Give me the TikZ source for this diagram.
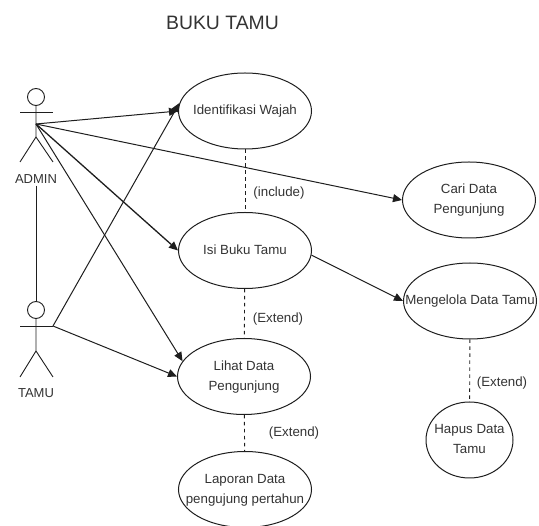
\documentclass[tikz,border=0pt]{standalone}
\usepackage{fontspec}
\setmainfont{Liberation Sans}
\usetikzlibrary{arrows.meta,shapes.geometric}
\definecolor{ink}{HTML}{1E1E1E}
\definecolor{txt}{HTML}{333333}
\newcommand\ucl[1]{\raisebox{-4pt}[0pt][0pt]{\makebox[40pt]{#1}}}
\tikzset{
  uc/.style={draw=ink,line width=1pt,ellipse,minimum width=#1,inner sep=0pt,minimum height=76pt,align=center,text=txt,font=\fontsize{13.3}{20}\selectfont},
  uc/.default=133pt,
  lab/.style={text=txt,inner sep=0pt,font=\fontsize{13.3}{15}\selectfont},
  actorlab/.style={text=txt,inner sep=0pt,font=\fontsize{13}{15}\selectfont},
  conn/.style={draw=ink,line width=1pt,-{Triangle[length=9pt,width=8pt]}},
  plainl/.style={draw=ink,line width=1pt},
  dashl/.style={draw=ink,line width=0.9pt,dash pattern=on 3.5pt off 3.5pt},
  limb/.style={draw=ink,line width=0.9pt},
}
\begin{document}
\begin{tikzpicture}[x=1pt,y=-1pt]
\useasboundingbox (0,0) rectangle (539,526);
\node[lab,font=\fontsize{19.4}{21}\selectfont] (title) at (222.5,22.5) {BUKU TAMU};
\node[uc] (iden) at (245,111) {\ucl{Identifikasi Wajah}};
\node[uc] (isi) at (245,250.5) {\ucl{Isi Buku Tamu}};
\node[uc] (lihat) at (244,376.5) {\ucl{Lihat Data}\\\ucl{Pengunjung}};
\node[uc] (lap) at (245,489.5) {\ucl{Laporan Data}\\\ucl{pengujung pertahun}};
\node[uc] (cari) at (469,200) {\ucl{Cari Data}\\\ucl{Pengunjung}};
\node[uc] (meng) at (470,301) {\ucl{Mengelola Data Tamu}};
\node[uc=87pt] (hapus) at (469.5,440) {\ucl{Hapus Data}\\\ucl{Tamu}};
% actors
\node[draw=ink,line width=0.9pt,circle,minimum size=17pt,inner sep=0pt] (ahead) at (36,97) {};
\coordinate (ahip) at (36,124);
\draw[limb] (ahead.south) -- (36,137) -- (20,162);
\draw[limb] (36,137) -- (53,162);
\draw[limb] (20,112) -- (53,112);
\node[actorlab] (alab) at (36,179) {ADMIN};
\node[draw=ink,line width=0.9pt,circle,minimum size=17pt,inner sep=0pt] (thead) at (36,310) {};
\coordinate (thand) at (53,326);
\draw[limb] (thead.south) -- (36,351) -- (20,377);
\draw[limb] (36,351) -- (53,377);
\draw[limb] (20,326) -- (thand);
\node[actorlab] (tlab) at (36,393) {TAMU};
% connectors
\draw[plainl] (alab.south)+(0,2) -- (thead.north);
\draw[conn] (ahip) -- (iden.west);
\draw[conn,line width=1.3pt] (ahip) -- (isi.west);
\draw[conn] (ahip) -- (lihat.166);
\draw[conn] (ahip) -- (cari.west);
\draw[conn] (thand) -- (iden.173);
\draw[conn] (thand) -- (lihat.west);
\draw[conn] (isi.-4) -- (meng.west);
\draw[dashl] (iden) -- (isi);
\draw[dashl] (isi) -- (lihat);
\draw[dashl] (lihat) -- (lap);
\draw[dashl] (meng) -- (hapus);
% labels
\node[lab] (l1) at (279,193) {(include)};
\node[lab] (l2) at (278,319) {(Extend)};
\node[lab] (l3) at (294,433) {(Extend)};
\node[lab] (l4) at (502,383) {(Extend)};
\end{tikzpicture}
\end{document}
